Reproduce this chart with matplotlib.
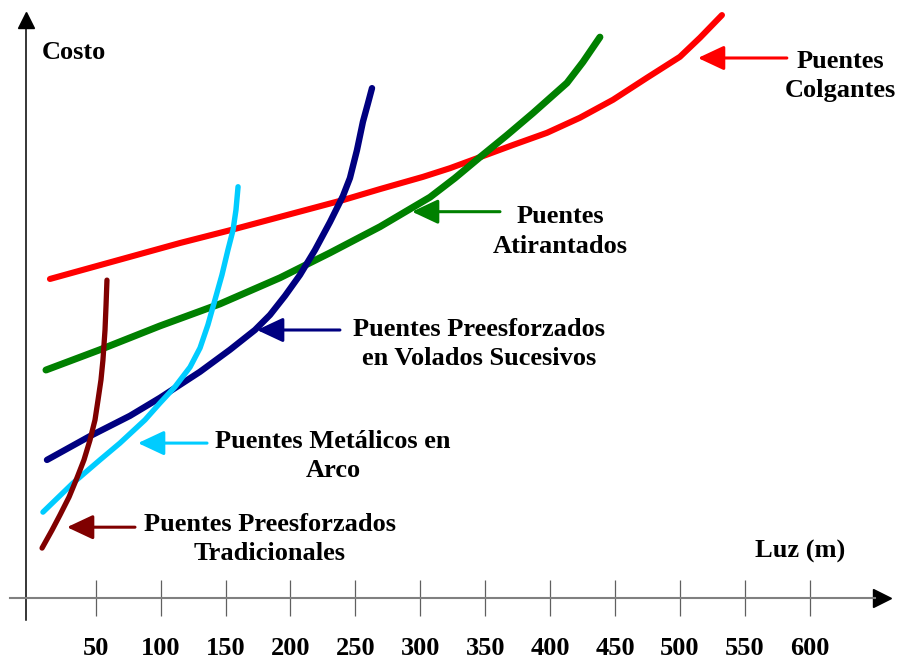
import matplotlib
matplotlib.use("Agg")
import matplotlib.pyplot as plt

plt.rcParams['font.family'] = ['Liberation Serif', 'DejaVu Serif']
plt.rcParams['font.weight'] = 'bold'

# eje x: luz (m), eje y: costo (unidades relativas)
luz_ticks = [50, 100, 150, 200, 250, 300, 350, 400, 450, 500, 550, 600]

colgantes_x = [14.7, 64.8, 114.9, 153.4, 191.9, 240.4, 269.0, 302.0, 322.9, 346.0,
               371.4, 397.6, 423.0, 448.5, 474.7, 500.0, 515.5, 532.4]
colgantes_y = [55.0, 58.1, 61.2, 63.4, 65.7, 68.6, 70.5, 72.6, 74.1, 76.0,
               78.1, 80.2, 82.8, 85.9, 89.7, 93.3, 96.6, 100.5]

atirantados_x = [11.6, 53.2, 99.4, 145.7, 191.9, 230.4, 268.9, 307.5, 326.7, 346.0,
                 366.8, 386.8, 399.9, 413.0, 425.3, 438.4]
atirantados_y = [39.3, 42.8, 46.9, 50.7, 55.2, 59.5, 64.0, 69.1, 72.4, 76.0,
                 79.8, 83.6, 86.2, 88.8, 92.4, 96.7]

volados_x = [12.4, 45.5, 76.3, 99.4, 130.3, 153.4, 172.6, 184.2, 195.8, 207.3,
             218.9, 230.4, 240.4, 245.8, 251.2, 255.8, 259.7, 262.8]
volados_y = [23.8, 27.9, 31.4, 34.5, 39.0, 42.8, 46.2, 48.8, 52.1, 55.7,
             60.0, 64.8, 69.3, 72.4, 77.2, 82.1, 85.3, 87.9]

arco_x = [9.3, 32.4, 53.2, 68.6, 87.9, 99.4, 111.0, 122.6, 130.3, 136.4,
          141.8, 147.2, 151.8, 155.7, 158.0, 159.6]
arco_y = [14.8, 19.8, 23.8, 26.7, 30.7, 33.6, 36.4, 39.8, 43.1, 47.1,
          51.4, 55.7, 60.0, 63.4, 66.9, 70.9]

tradicionales_x = [8.6, 16.3, 22.4, 29.4, 35.5, 40.9, 45.5, 49.4, 51.7, 54.0,
                   55.5, 57.1, 57.9, 58.6]
tradicionales_y = [8.6, 11.7, 14.3, 17.4, 20.7, 23.8, 27.2, 30.7, 34.1, 37.6,
                   41.0, 46.2, 50.5, 54.8]

series = [
    (colgantes_x, colgantes_y, "#FF0000", 4.4),
    (atirantados_x, atirantados_y, "#008000", 5.0),
    (volados_x, volados_y, "#000080", 4.6),
    (arco_x, arco_y, "#00CCFF", 3.9),
    (tradicionales_x, tradicionales_y, "#800000", 3.8),
]

# etiquetas: texto, centro del texto, punta y cola de la flecha
labels = [
    ("Puentes\nColgantes", (623.7, 90.0), (513.9, 93.1), (582.4, 93.1), "#FF0000"),
    ("Puentes\nAtirantados", (407.6, 63.2), (293.6, 66.6), (361.4, 66.6), "#008000"),
    ("Puentes Preesforzados\nen Volados Sucesivos", (345.2, 43.8), (174.2, 46.2), (238.1, 46.2), "#000080"),
    ("Puentes Metálicos en\nArco", (232.7, 24.5), (82.5, 26.7), (135.7, 26.7), "#00CCFF"),
    ("Puentes Preesforzados\nTradicionales", (184.2, 10.2), (27.8, 12.2), (80.2, 12.2), "#800000"),
]

fig = plt.figure(figsize=(8.99, 6.6), dpi=100)
ax = fig.add_axes([0, 0, 1, 1])
ax.set_xlim(-23.8, 668.8)
ax.set_ylim(-10.7, 103.1)

for xs, ys, color, lw in series:
    ax.plot(xs, ys, color=color, lw=lw, solid_capstyle='round', solid_joinstyle='round')

for text, (tx, ty), tip, tail, color in labels:
    ax.annotate('', xy=tip, xytext=tail,
                arrowprops=dict(arrowstyle='-|>,head_length=1.6,head_width=0.75',
                                color=color, lw=2.2, shrinkA=0, shrinkB=0))
    ax.text(tx, ty, text, ha='center', va='center', multialignment='center',
            fontsize=19, fontweight='bold', linespacing=1.35)

ax.text(8.6, 94.1, "Costo", ha='left', va='center', fontsize=19, fontweight='bold')
ax.text(592.5, 8.1, "Luz (m)", ha='center', va='center', fontsize=19, fontweight='bold')

# ejes
for side in ['top', 'right']:
    ax.spines[side].set_visible(False)
ax.spines['bottom'].set_position(('data', 0))
ax.spines['bottom'].set_bounds(-15.9, 650)
ax.spines['bottom'].set_color('#808080')
ax.spines['bottom'].set_linewidth(1.5)
ax.spines['left'].set_position(('data', -4.1))
ax.spines['left'].set_bounds(-3.8, 99)
ax.spines['left'].set_linewidth(1.1)
ax.plot(656.0, 0, marker='>', color='black', markersize=13, clip_on=False)
ax.plot(-4.1, 99.6, marker='^', color='black', markersize=12, clip_on=False)

ax.set_xticks(luz_ticks)
ax.set_xticklabels([str(v) for v in luz_ticks])
ax.tick_params(axis='x', direction='inout', length=26, width=0.9, color='#606060',
               labelsize=19, pad=15)
ax.set_yticks([])

fig.savefig("out.png", dpi=100)
